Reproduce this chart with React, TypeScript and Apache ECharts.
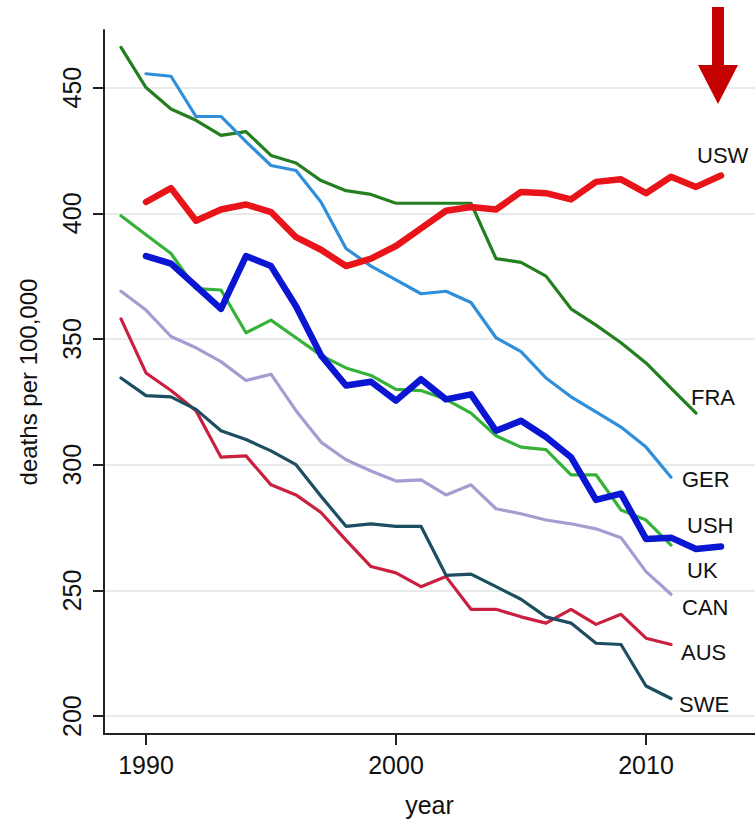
import React, { useEffect, useRef } from "react";
import * as echarts from "echarts";

// ---- data (deaths per 100,000) ----
const FRA_START = 1989;
const FRA = [466, 450, 441.5, 437, 431, 432.5, 423, 420, 413, 409, 407.5, 404, 404, 404, 404, 382, 380.5, 375, 362, 355.5, 348.5, 340.5, 330.5, 320.5];
const GER_START = 1990;
const GER = [455.5, 454.5, 438.5, 438.5, 428.5, 419, 417, 404.5, 386, 379, 373.5, 368, 369, 364.5, 350.5, 345, 334.5, 327, 321, 315, 307, 295];
const USW_START = 1990;
const USW = [404.5, 410, 397, 401.5, 403.5, 400.5, 390.5, 385.5, 379, 382, 387, 394, 401, 402.5, 401.5, 408.5, 408, 405.5, 412.5, 413.5, 408, 414.5, 410.5, 415];
const USH_START = 1990;
const USH = [383, 380, 371, 362, 383, 379, 363, 343.5, 331.5, 333, 325.5, 334, 326, 328, 313.5, 317.5, 311, 303, 286, 288.5, 270.5, 271, 266.5, 267.5];
const UK_START = 1989;
const UK = [399, 391.5, 384, 370, 369.5, 352.5, 357.5, 350.5, 343.5, 338.5, 335.5, 330, 329.5, 326, 320.5, 311.5, 307, 306, 296, 296, 282, 278, 268];
const CAN_START = 1989;
const CAN = [369, 361.5, 351, 346.5, 341, 333.5, 336, 321.5, 309, 302, 297.5, 293.5, 294, 288, 292, 282.5, 280.5, 278, 276.5, 274.5, 271, 257.5, 248.5];
const AUS_START = 1989;
const AUS = [358, 336.5, 329.5, 321.5, 303, 303.5, 292, 288, 281, 270, 259.5, 257, 251.5, 255.5, 242.5, 242.5, 239.5, 237, 242.5, 236.5, 240.5, 231, 228.5];
const SWE_START = 1989;
const SWE = [334.5, 327.5, 327, 322, 313.5, 310, 305.5, 300, 287.5, 275.5, 276.5, 275.5, 275.5, 256, 256.5, 251.5, 246.5, 239.5, 237, 229, 228.5, 212, 207];

const X_TICKS = [1990, 2000, 2010];
const Y_TICKS = [200, 250, 300, 350, 400, 450];

const toPairs = (start: number, vals: number[]) => vals.map((v, i) => [start + i, v]);

const FONT = "'Liberation Sans', Arial, Helvetica, sans-serif";

export default function App() {
  const ref = useRef<HTMLDivElement>(null);
  useEffect(() => {
    if (!ref.current) return;
    const chart = echarts.init(ref.current, undefined, { renderer: "svg" });

    const mk = (name: string, start: number, vals: number[], color: string, width: number, z: number) => ({
      name,
      type: "line",
      data: toPairs(start, vals),
      showSymbol: false,
      symbol: "none",
      lineStyle: { color, width, cap: "round", join: "round" },
      itemStyle: { color },
      z,
    });

    const labels = [
      { t: "USW", x: 697, y: 155 },
      { t: "FRA", x: 691, y: 397 },
      { t: "GER", x: 682, y: 479 },
      { t: "USH", x: 687, y: 525 },
      { t: "UK", x: 687, y: 570 },
      { t: "CAN", x: 682, y: 607 },
      { t: "AUS", x: 681, y: 652 },
      { t: "SWE", x: 679, y: 704 },
    ];

    chart.setOption({
      animation: false,
      backgroundColor: "#ffffff",
      textStyle: { fontFamily: FONT },
      grid: { left: 104, right: 0, top: 30, bottom: 84, containLabel: false },
      xAxis: {
        type: "value",
        min: 1988.32,
        max: 2014.36,
        name: "year",
        nameLocation: "middle",
        nameGap: 58,
        nameTextStyle: { fontSize: 25, color: "#111", fontFamily: FONT },
        axisLine: { show: true, lineStyle: { color: "#222", width: 2 } },
        axisTick: { show: true, inside: false, length: 11, customValues: X_TICKS, lineStyle: { color: "#222", width: 2 } },
        axisLabel: { customValues: X_TICKS, fontSize: 25, color: "#111", margin: 18, fontFamily: FONT, formatter: (v: number) => String(v) },
        splitLine: { show: false },
      },
      yAxis: {
        type: "value",
        min: 192.9,
        max: 472.9,
        name: "deaths per 100,000",
        nameLocation: "middle",
        nameRotate: 90,
        nameGap: 64,
        nameTextStyle: { fontSize: 24, color: "#111", fontFamily: FONT },
        axisLine: { show: true, lineStyle: { color: "#222", width: 2 } },
        axisTick: { show: true, inside: false, length: 11, customValues: Y_TICKS, lineStyle: { color: "#222", width: 2 } },
        axisLabel: { customValues: Y_TICKS, fontSize: 25, color: "#111", rotate: 90, margin: 20, fontFamily: FONT, formatter: (v: number) => String(v) },
        splitLine: { show: true, lineStyle: { color: "#e8ebec", width: 2 } },
      },
      series: [
        mk("FRA", FRA_START, FRA, "#237f1f", 3.2, 2),
        mk("GER", GER_START, GER, "#2f8fdb", 3.2, 2),
        mk("UK", UK_START, UK, "#35b237", 3.2, 3),
        mk("CAN", CAN_START, CAN, "#a79bd2", 3.2, 2),
        mk("AUS", AUS_START, AUS, "#c9203f", 3.2, 2),
        mk("SWE", SWE_START, SWE, "#1c4d61", 3.2, 2),
        mk("USH", USH_START, USH, "#0a16d2", 6.5, 4),
        mk("USW", USW_START, USW, "#e81419", 6.5, 4),
      ],
      graphic: [
        ...labels.map((l) => ({
          type: "text",
          x: l.x,
          y: l.y,
          style: { text: l.t, fontSize: 22, fill: "#111", fontFamily: FONT, textAlign: "left", textVerticalAlign: "middle", verticalAlign: "middle" },
          z: 10,
        })),
        {
          type: "polygon",
          shape: {
            points: [
              [712, 7], [724, 7], [724, 65], [738, 65], [718, 104], [698, 65], [712, 65],
            ],
          },
          style: { fill: "#c40000" },
          z: 10,
        },
      ],
    });
    return () => chart.dispose();
  }, []);
  return <div ref={ref} style={{ position: "absolute", left: 0, top: 0, width: 755, height: 822 }} />;
}
